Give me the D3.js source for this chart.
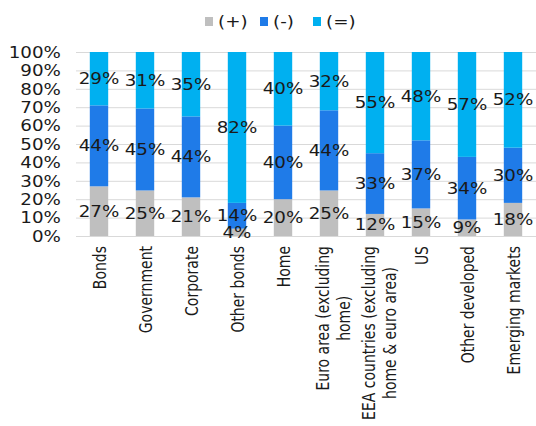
<!DOCTYPE html>
<html><head><meta charset="utf-8">
<script src="https://cdn.jsdelivr.net/npm/d3@7"></script>
<style>
html,body{margin:0;padding:0;background:#fff;}
svg{display:block;font-family:"DejaVu Sans",Verdana,sans-serif;}
</style></head>
<body><svg id="chart" width="536" height="426"></svg>
<script>
const categories = ["Bonds","Government","Corporate","Other bonds","Home","Euro area (excluding home)","EEA countries (excluding home & euro area)","US","Other developed","Emerging markets"];
const categoryLines = [["Bonds"],["Government"],["Corporate"],["Other bonds"],["Home"],["Euro area (excluding","home)"],["EEA countries (excluding","home & euro area)"],["US"],["Other developed"],["Emerging markets"]];
const seriesNames = ["(+)","(-)","(=)"];
const plusValues  = [27,25,21,4,20,25,12,15,9,18];
const minusValues = [44,45,44,14,40,44,33,37,34,30];
const equalValues = [29,31,35,82,40,32,55,48,57,52];
const yTicks = [0,0.1,0.2,0.3,0.4,0.5,0.6,0.7,0.8,0.9,1];
const colors = ["#bfbfbf","#1f7be8","#00b0f0"];

const rows = categories.map((c,i)=>({cat:c, "(+)":plusValues[i], "(-)":minusValues[i], "(=)":equalValues[i]}));
const stack = d3.stack().keys(seriesNames).offset(d3.stackOffsetExpand);
const layers = stack(rows);

const svg = d3.select("#chart");
const W = 536, H = 426;
const x = d3.scaleBand().domain(categories).range([76, 536]).paddingInner(0.6).paddingOuter(0.3);
const y = d3.scaleLinear().domain([0,1]).range([236, 52]);
const SX = 1.22;
const textColor = "#1a1a1a";

// gridlines
svg.append("g").selectAll("line").data(yTicks).join("line")
  .attr("x1",76).attr("x2",536)
  .attr("y1",d=>y(d)+0.5).attr("y2",d=>y(d)+0.5)
  .attr("stroke","#d9d9d9").attr("stroke-width",1);

// y tick labels
const yAxis = d3.axisLeft(y).tickValues(yTicks).tickFormat(d3.format(".0%")).tickSize(0);
const ya = svg.append("g").attr("transform","translate(61,0)").call(yAxis);
ya.select(".domain").remove();
ya.selectAll(".tick text")
  .attr("x",0).attr("dy","0.35em")
  .attr("font-size",15).attr("fill",textColor)
  .attr("font-family","DejaVu Sans")
  .attr("text-anchor","end")
  .attr("transform",`scale(${SX},1)`);

// bars
const gBars = svg.append("g");
layers.forEach((layer,li)=>{
  gBars.append("g").attr("fill",colors[li]).selectAll("rect").data(layer).join("rect")
    .attr("x",d=>x(d.data.cat))
    .attr("width",x.bandwidth())
    .attr("y",d=>y(d[1]))
    .attr("height",d=>y(d[0])-y(d[1]));
});

// value labels
const gLab = svg.append("g");
layers.forEach((layer,li)=>{
  gLab.append("g").selectAll("text").data(layer).join("text")
    .attr("transform",d=>`translate(${x(d.data.cat)+x.bandwidth()/2},${(y(d[0])+y(d[1]))/2}) scale(${SX},1)`)
    .attr("text-anchor","middle").attr("dy","0.36em")
    .attr("font-size",15).attr("fill",textColor)
    .text(d=>d.data[layer.key]+"%");
});

// x labels
const XS = 1.3, lh = 16;
const gx = svg.append("g");
categoryLines.forEach((lines,i)=>{
  const cx = x(categories[i]) + x.bandwidth()/2 + (lines.length>1?4:1);
  const g = gx.append("g").attr("transform",`translate(${cx},246) scale(${XS},1) rotate(-90)`);
  const ts = lines.map((l,j)=>g.append("text")
     .attr("font-size",14).attr("fill",textColor)
     .attr("text-anchor","middle")
     .attr("y",(j-(lines.length-1)/2)*lh).attr("dy","0.35em")
     .text(l));
  const maxLen = d3.max(ts,t=>t.node().getComputedTextLength());
  ts.forEach(t=>t.attr("x",-maxLen/2));
});

// legend
const legendX = [205,260,313];
const lg = svg.append("g");
seriesNames.forEach((s,i)=>{
  lg.append("rect").attr("x",legendX[i]).attr("y",17).attr("width",8).attr("height",9).attr("fill",colors[i]);
  lg.append("text").attr("transform",`translate(${legendX[i]+13},21.5) scale(${SX},1)`)
    .attr("dy","0.36em").attr("font-size",15).attr("fill",textColor).text(s);
});
</script></body></html>
